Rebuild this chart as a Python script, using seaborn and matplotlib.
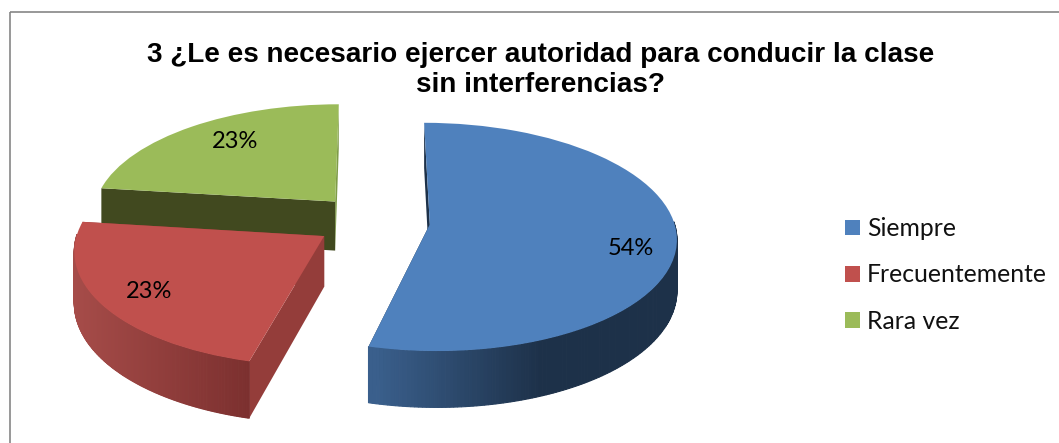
"""
3D look exploded pie, seaborn theme + matplotlib pie
"""
import numpy as np
import matplotlib
matplotlib.use("Agg")
import matplotlib.pyplot as plt
import matplotlib.transforms as mtransforms
from matplotlib.patches import Polygon, Rectangle
from matplotlib.colors import to_rgb
import seaborn as sns

# ─── Data ───────────────────────────────────────────────────────────────────
categories = ["Siempre", "Frecuentemente", "Rara vez"]
values = [54, 23, 23]
pct_labels = ["54%", "23%", "23%"]
title_text = "3 ¿Le es necesario ejercer autoridad para conducir la clase\nsin interferencias?"

# ─── Style ──────────────────────────────────────────────────────────────────
TOP = ["#4f81bd", "#c0504d", "#9bbb59"]
WALL_LEFT = ["#3a5f8c", "#a64c49", "#41491f"]
WALL_RIGHT = ["#1d3149", "#7c302f", "#41491f"]
# face colours of the two cuts (first angle, second angle) for each slice
CUT_START = ["#1d3149", "#943d3a", "#41491f"]
CUT_END = ["#1d3149", "#943d3a", "#7f9c48"]

sns.set_theme(style="white")

# projection of the pie plane onto the page, in pixels
CX, CY = 372.5, 221
R, K, P, DEPTH = 244, 0.459, 0.11, 50


def project(xy, z=0.0):
    xy = np.asarray(xy, dtype=float)
    s = 1 / (1 + P * xy[:, 1])
    return np.column_stack([CX + R * xy[:, 0] * s,
                            CY - R * K * xy[:, 1] * s + DEPTH * z * s])


class Tilt(mtransforms.Transform):
    input_dims = 2
    output_dims = 2
    is_separable = False

    def transform_non_affine(self, values):
        return project(values)


def arc(wedge, n=240):
    th = np.radians(np.linspace(wedge.theta1, wedge.theta2, n))
    return th, np.column_stack([wedge.center[0] + wedge.r * np.cos(th),
                                wedge.center[1] + wedge.r * np.sin(th)])


def shade(c1, c2, t):
    return tuple(np.array(to_rgb(c1)) * (1 - t) + np.array(to_rgb(c2)) * t)


fig = plt.figure(figsize=(10.59, 4.43), dpi=100, facecolor="white")
ax = fig.add_axes([0, 0, 1, 1])

wedges, _, autotexts = ax.pie(values, startangle=90, counterclock=False,
                              explode=[0.236, 0.236, 0.236], colors=TOP,
                              autopct="%1.0f%%", radius=1,
                              wedgeprops={"linewidth": 0, "edgecolor": "none"})
ax.set_aspect("auto")
ax.set_xlim(0, 1059)
ax.set_ylim(443, 0)
ax.axis("off")

tilt = Tilt() + ax.transData
order = {0: 3, 1: 2, 2: 1}   # green at the back, blue at the front

for i, w in enumerate(wedges):
    z = order[i]
    w.set_transform(tilt)
    w.set_zorder(z + 0.5)

    th, pts = arc(w)
    centre = np.array([w.center])
    rim = project(pts)
    low = project(pts, 1.0)
    a0, a1 = project(centre), project(centre, 1.0)

    # cut faces; with counterclock=False theta1 is the far end of the slice
    for end, col in ((0, CUT_END[i]), (-1, CUT_START[i])):
        ax.add_patch(Polygon([a0[0], rim[end], low[end], a1[0]], closed=True,
                             facecolor=col, edgecolor="none", zorder=z))

    # outer wall, shaded left to right, only the part facing the viewer
    x_lo, x_hi = (375, 540) if i == 0 else (75, 248)
    for j in range(len(pts) - 1):
        if np.sin(th[j]) > 0.02:
            continue
        t = np.clip((rim[j, 0] - x_lo) / (x_hi - x_lo), 0, 1)
        col = shade(WALL_LEFT[i], WALL_RIGHT[i], t)
        ax.add_patch(Polygon([rim[j], rim[j + 1], low[j + 1], low[j]], closed=True,
                             facecolor=col, edgecolor=col, lw=0.8, zorder=z + 0.2))

# percent labels
for at, lab, pos in zip(autotexts, pct_labels, [(631, 248), (149, 292), (235, 142)]):
    at.set_text(lab)
    at.set_position(pos)
    at.set_fontsize(17)
    at.set_family("Lato")
    at.set_color("black")
    at.set_ha("center")
    at.set_va("center")
    at.set_zorder(6)

# frame, only top and left reach the picture
ax.add_patch(Rectangle((10, 12), 1075, 460, fill=False, edgecolor="#868686", lw=1.2, zorder=0.5))

ax.text(541, 70, title_text, ha="center", va="center", multialignment="center",
        family="Liberation Sans", fontweight="bold", fontsize=20.1, color="black",
        linespacing=1.23, zorder=6)

leg = ax.legend(wedges, categories, loc="center left", bbox_to_anchor=(845 / 1059, 1 - 275 / 443),
                frameon=False, borderpad=0, borderaxespad=0, labelspacing=0.94,
                handlelength=0.61, handleheight=0.61, handletextpad=0.28,
                labelcolor="#111111", prop={"family": "Lato", "size": 17.8})

fig.savefig("out.png", dpi=100, facecolor="white")
plt.close()
